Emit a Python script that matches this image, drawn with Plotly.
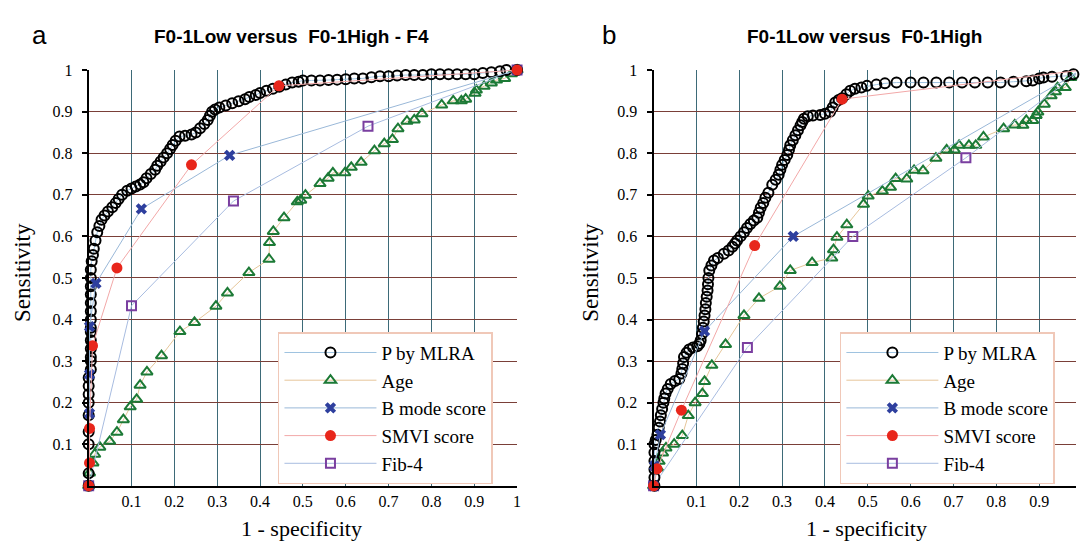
import plotly.graph_objects as go

# ---------------- data: panel a ----------------
a_mlra_x = [0, 0, 0, 0, 0, 0, 0, 0, 0,
            0.005, 0.005, 0.005, 0.005, 0.005, 0.005, 0.005, 0.005, 0.005, 0.005, 0.005, 0.005, 0.005,
            0.005, 0.007, 0.01, 0.012, 0.016, 0.02, 0.025, 0.03, 0.037, 0.045, 0.055, 0.063, 0.07, 0.078,
            0.09, 0.1, 0.11, 0.12, 0.128, 0.135, 0.145, 0.155, 0.16, 0.168, 0.175, 0.183, 0.19, 0.196,
            0.203, 0.212, 0.225, 0.24, 0.25, 0.26, 0.27, 0.278, 0.283, 0.288, 0.295, 0.305, 0.32, 0.335,
            0.35, 0.365, 0.375, 0.39, 0.40, 0.415, 0.43, 0.445, 0.46, 0.475, 0.49, 0.50, 0.52, 0.54,
            0.56, 0.58, 0.60, 0.62, 0.64, 0.66, 0.68, 0.70, 0.72, 0.74, 0.76, 0.78, 0.80, 0.82, 0.84,
            0.86, 0.88, 0.90, 0.92, 0.94, 0.96, 0.975, 1.0]
a_mlra_y = [0, 0.03, 0.10, 0.13, 0.17, 0.20, 0.22, 0.24, 0.26,
            0.28, 0.30, 0.31, 0.33, 0.35, 0.37, 0.38, 0.40, 0.42, 0.44, 0.46, 0.48, 0.50,
            0.52, 0.54, 0.555, 0.57, 0.59, 0.61, 0.625, 0.64, 0.65, 0.66, 0.67, 0.68, 0.69, 0.70,
            0.71, 0.715, 0.72, 0.725, 0.73, 0.74, 0.75, 0.76, 0.77, 0.78, 0.79, 0.80, 0.81, 0.82,
            0.83, 0.84, 0.842, 0.845, 0.85, 0.86, 0.87, 0.88, 0.89, 0.90, 0.905, 0.91, 0.915, 0.92,
            0.925, 0.93, 0.935, 0.94, 0.945, 0.95, 0.955, 0.96, 0.965, 0.97, 0.972, 0.975, 0.975, 0.975,
            0.976, 0.977, 0.978, 0.98, 0.98, 0.983, 0.985, 0.985, 0.987, 0.988, 0.988, 0.988, 0.99, 0.99, 0.99,
            0.99, 0.99, 0.99, 0.993, 0.995, 0.997, 1.0, 1.0]

a_age_x = [0, 0.002, 0.01, 0.014, 0.026, 0.049, 0.066, 0.081, 0.097, 0.112, 0.12, 0.136, 0.17, 0.213,
           0.247, 0.297, 0.324, 0.374, 0.421, 0.422, 0.431, 0.456, 0.487, 0.495, 0.506, 0.54, 0.559,
           0.57, 0.598, 0.613, 0.636, 0.667, 0.69, 0.709, 0.722, 0.743, 0.76, 0.778, 0.824, 0.851,
           0.87, 0.88, 0.902, 0.905, 0.923, 0.94, 0.952, 0.971, 0.987, 1.0]
a_age_y = [0, 0.031, 0.055, 0.076, 0.093, 0.107, 0.129, 0.159, 0.19, 0.208, 0.242, 0.274, 0.313, 0.371,
           0.393, 0.432, 0.464, 0.513, 0.545, 0.585, 0.612, 0.645, 0.683, 0.687, 0.699, 0.727, 0.74,
           0.753, 0.753, 0.766, 0.778, 0.806, 0.823, 0.833, 0.859, 0.877, 0.88, 0.895, 0.916, 0.926,
           0.926, 0.93, 0.944, 0.952, 0.961, 0.969, 0.976, 0.98, 0.991, 1.0]

a_bmode_x = [0, 0.002, 0.002, 0.002, 0.017, 0.123, 0.329, 1.0]
a_bmode_y = [0, 0.174, 0.268, 0.383, 0.487, 0.666, 0.795, 1.0]

a_smvi_x = [0, 0.002, 0.002, 0.009, 0.066, 0.24, 0.444, 1.0]
a_smvi_y = [0, 0.055, 0.138, 0.337, 0.524, 0.772, 0.962, 1.0]

a_fib4_x = [0, 0.1, 0.338, 0.652, 1.0]
a_fib4_y = [0, 0.433, 0.685, 0.865, 1.0]

# ---------------- data: panel b ----------------
b_mlra_x = [0.002, 0.002, 0.002, 0.002, 0.002, 0.002,
            0.005, 0.009, 0.012, 0.015, 0.017, 0.02, 0.023, 0.025, 0.028, 0.033, 0.04, 0.05, 0.06, 0.065,
            0.067, 0.069, 0.071, 0.077, 0.083, 0.092, 0.102, 0.107, 0.11, 0.113, 0.115, 0.117, 0.119,
            0.121, 0.122, 0.124, 0.126, 0.127, 0.128, 0.13, 0.135, 0.141, 0.15, 0.164, 0.175, 0.184,
            0.19, 0.195, 0.203, 0.211, 0.218, 0.226, 0.234, 0.242, 0.246, 0.25, 0.256, 0.261, 0.268,
            0.277, 0.285, 0.292, 0.296, 0.3, 0.306, 0.312, 0.316, 0.319, 0.325, 0.331, 0.337, 0.343,
            0.347, 0.351, 0.36, 0.372, 0.389, 0.4, 0.412, 0.418, 0.424, 0.432, 0.44, 0.45, 0.459, 0.47,
            0.485, 0.498, 0.52, 0.54, 0.567, 0.6, 0.63, 0.66, 0.69, 0.72, 0.75, 0.78, 0.81, 0.84, 0.87,
            0.885, 0.9, 0.91, 0.93, 0.963, 0.98, 1.0]
b_mlra_y = [0, 0.02, 0.04, 0.06, 0.08, 0.10,
            0.11, 0.123, 0.14, 0.155, 0.17, 0.185, 0.2, 0.21, 0.222, 0.233, 0.245, 0.252, 0.257, 0.27,
            0.281, 0.295, 0.31, 0.32, 0.328, 0.333, 0.336, 0.342, 0.35, 0.365, 0.38, 0.395, 0.41,
            0.425, 0.44, 0.455, 0.47, 0.485, 0.50, 0.518, 0.53, 0.542, 0.548, 0.558, 0.566, 0.575,
            0.583, 0.59, 0.6, 0.61, 0.62, 0.63, 0.638, 0.645, 0.657, 0.669, 0.68, 0.693, 0.705,
            0.724, 0.736, 0.748, 0.76, 0.772, 0.784, 0.796, 0.808, 0.819, 0.831, 0.843, 0.855, 0.867,
            0.875, 0.883, 0.889, 0.891, 0.892, 0.895, 0.9, 0.91, 0.922, 0.928, 0.932, 0.942, 0.95, 0.955,
            0.958, 0.962, 0.965, 0.968, 0.97, 0.97, 0.97, 0.97, 0.97, 0.97, 0.97, 0.97, 0.97, 0.972, 0.973,
            0.975, 0.98, 0.982, 0.984, 0.986, 0.99, 1.0]

b_age_x = [0, 0.009, 0.013, 0.021, 0.029, 0.048, 0.067, 0.081, 0.097, 0.114, 0.119, 0.136, 0.168,
           0.211, 0.246, 0.295, 0.319, 0.37, 0.416, 0.42, 0.428, 0.451, 0.49, 0.501, 0.534, 0.553,
           0.565, 0.591, 0.608, 0.629, 0.659, 0.684, 0.702, 0.713, 0.736, 0.752, 0.77, 0.817, 0.843,
           0.862, 0.87, 0.885, 0.893, 0.897, 0.912, 0.928, 0.938, 0.943, 0.961, 0.974, 1.0]
b_age_y = [0, 0.043, 0.059, 0.079, 0.091, 0.1, 0.121, 0.169, 0.2, 0.222, 0.251, 0.29, 0.34,
           0.41, 0.451, 0.48, 0.518, 0.537, 0.548, 0.568, 0.598, 0.628, 0.677, 0.697, 0.709, 0.718,
           0.739, 0.738, 0.759, 0.758, 0.788, 0.808, 0.808, 0.819, 0.819, 0.819, 0.839, 0.859, 0.868,
           0.867, 0.879, 0.879, 0.891, 0.899, 0.918, 0.938, 0.948, 0.958, 0.958, 0.982, 1.0]

b_bmode_x = [0, 0.002, 0.016, 0.119, 0.326, 1.0]
b_bmode_y = [0, 0.048, 0.123, 0.372, 0.6, 1.0]

b_smvi_x = [0, 0.008, 0.065, 0.236, 0.44, 1.0]
b_smvi_y = [0, 0.041, 0.182, 0.578, 0.93, 1.0]

b_fib4_x = [0, 0.219, 0.465, 0.729, 1.0]
b_fib4_y = [0, 0.333, 0.6, 0.789, 1.0]

ticks = [0.1, 0.2, 0.3, 0.4, 0.5, 0.6, 0.7, 0.8, 0.9, 1]
tick_text = ["0.1", "0.2", "0.3", "0.4", "0.5", "0.6", "0.7", "0.8", "0.9", "1"]

series_names = ["P by MLRA", "Age", "B mode score", "SMVI score", "Fib-4"]

styles = {
    "P by MLRA": dict(marker=dict(symbol="circle-open", size=10, color="black", line=dict(width=2, color="black")),
                      line=dict(color="#9ec3e0", width=1)),
    "Age": dict(marker=dict(symbol="triangle-up-open", size=10, color="#1c7a36", line=dict(width=2, color="#1c7a36")),
                line=dict(color="#e6c69a", width=1)),
    "B mode score": dict(marker=dict(symbol="x", size=10, color="#2e3f9e", line=dict(width=0)),
                         line=dict(color="#9ab8d8", width=1)),
    "SMVI score": dict(marker=dict(symbol="circle", size=11, color="#e8261b", line=dict(width=0)),
                       line=dict(color="#f2a8a8", width=1)),
    "Fib-4": dict(marker=dict(symbol="square-open", size=9, color="#7a3fa0", line=dict(width=2, color="#7a3fa0")),
                  line=dict(color="#a8bce0", width=1)),
}

panel_a = [(a_mlra_x, a_mlra_y), (a_age_x, a_age_y), (a_bmode_x, a_bmode_y), (a_smvi_x, a_smvi_y), (a_fib4_x, a_fib4_y)]
panel_b = [(b_mlra_x, b_mlra_y), (b_age_x, b_age_y), (b_bmode_x, b_bmode_y), (b_smvi_x, b_smvi_y), (b_fib4_x, b_fib4_y)]

fig = go.Figure()

order = [1, 4, 0, 2, 3]
for panel, (xa, ya, leg) in zip([panel_a, panel_b], [("x", "y", "legend"), ("x2", "y2", "legend2")]):
    for i in order:
        name = series_names[i]
        xs, ys = panel[i]
        st = styles[name]
        fig.add_trace(go.Scatter(
            x=xs, y=ys, mode="lines+markers", name=name,
            marker=st["marker"], line=st["line"],
            xaxis=xa, yaxis=ya, legend=leg, legendrank=i + 1,
            cliponaxis=False, showlegend=True,
        ))

serif = "Liberation Serif, Times New Roman, serif"
sans = "Liberation Sans, Arial, sans-serif"

def axis_common():
    return dict(
        tickvals=ticks, ticktext=tick_text, showgrid=True, gridwidth=1,
        showline=True, linecolor="black", linewidth=2, zeroline=False,
        tickfont=dict(family=serif, size=16, color="black"),
    )

xticks = dict(ticks="")
yticks = dict(ticks="outside", ticklen=5, tickwidth=1.5, tickcolor="black", ticklabelstandoff=6)

y0, y1 = (542 - 485) / 542, (542 - 63) / 542

legend_common = dict(bgcolor="white", bordercolor="#f0c8b8", borderwidth=1.5,
                     font=dict(family=serif, size=19, color="black"), itemwidth=92, tracegroupgap=0,
                     traceorder="normal", xanchor="left", yanchor="top")

fig.update_layout(
    width=1080, height=542,
    margin=dict(l=0, r=0, t=0, b=0),
    paper_bgcolor="white", plot_bgcolor="white",
    xaxis=dict(domain=[89 / 1080, 519 / 1080], range=[0, 1], anchor="y", gridcolor="#3d6a78", **xticks, **axis_common()),
    yaxis=dict(domain=[y0, y1], range=[0, 1], anchor="x", gridcolor="#7a3f38", **yticks, **axis_common()),
    xaxis2=dict(domain=[656 / 1080, 1.0], range=[0, 0.986], anchor="y2", gridcolor="#3d6a78", **xticks, **axis_common()),
    yaxis2=dict(domain=[y0, y1], range=[0, 1], anchor="x2", gridcolor="#7a3f38", **yticks, **axis_common()),
    legend=dict(x=279 / 1080, y=(542 - 329) / 542, **legend_common),
    legend2=dict(x=843 / 1080, y=(542 - 329) / 542, **legend_common),
    showlegend=True,
)

annots = [
    dict(text="a", x=40, y=27, font=dict(family=sans, size=26, color="black")),
    dict(text="<b>F0-1Low versus  F0-1High - F4</b>", x=293, y=29, font=dict(family=sans, size=19, color="black")),
    dict(text="b", x=611, y=27, font=dict(family=sans, size=26, color="black")),
    dict(text="<b>F0-1Low versus  F0-1High</b>", x=868, y=29, font=dict(family=sans, size=19, color="black")),
    dict(text="1 - specificity", x=303, y=528, font=dict(family=serif, size=22, color="black")),
    dict(text="1 - specificity", x=870, y=528, font=dict(family=serif, size=22, color="black")),
]
for an in annots:
    fig.add_annotation(text=an["text"], x=an["x"] / 1080, y=1 - an["y"] / 542, xref="paper", yref="paper",
                       showarrow=False, xanchor="center", yanchor="middle", font=an["font"])
for xpix in [22, 592]:
    fig.add_annotation(text="Sensitivity", x=xpix / 1080, y=1 - 268 / 542, xref="paper", yref="paper",
                       showarrow=False, textangle=-90, xanchor="center", yanchor="middle",
                       font=dict(family=serif, size=23, color="black"))

fig.write_html("out.html", config={"displayModeBar": False},
               post_script="document.body.style.margin='0px';document.body.style.overflow='hidden';")
